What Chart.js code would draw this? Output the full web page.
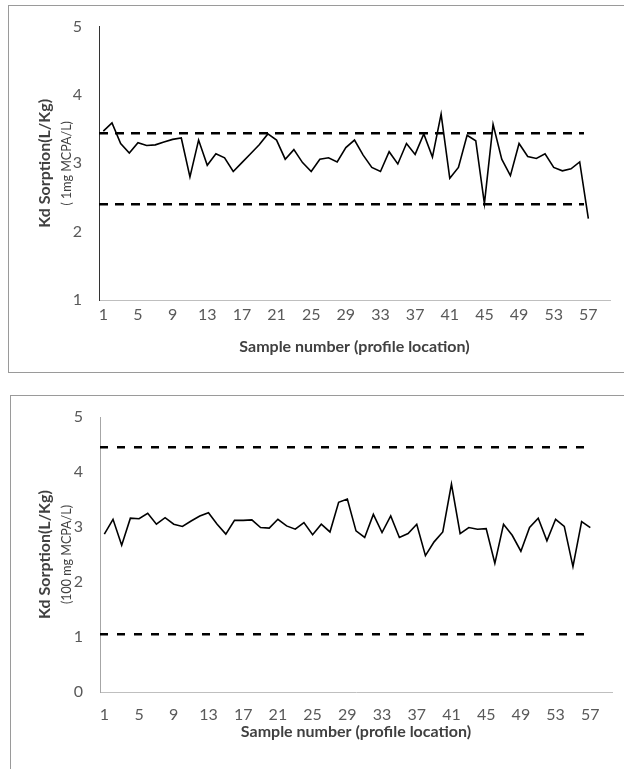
<!DOCTYPE html>
<html>
<head>
<meta charset="utf-8">
<script src="https://cdn.jsdelivr.net/npm/chart.js@4.4.1/dist/chart.umd.min.js"></script>
<style>
    body { margin: 0; background: #fff; width: 624px; height: 769px; overflow: hidden; position: relative; }
    .panel { position: absolute; border: 1px solid #9a9a9a; background: #fff; }
    #p1 { left: 8px; top: 5px; width: 640px; height: 366px; }
    #p2 { left: 10px; top: 395px; width: 640px; height: 400px; }
    canvas { position: absolute; left: 0; }
    #c1 { top: 0; }
    #c2 { top: 385px; }
</style>
</head>
<body>
<div class="panel" id="p1"></div>
<div class="panel" id="p2"></div>
<canvas id="c1" width="624" height="385"></canvas>
<canvas id="c2" width="624" height="384"></canvas>
<script>
// Kd sorption per sample, 1 mg MCPA/L
const kd1mg = [3.47, 3.59, 3.29, 3.15, 3.30, 3.26, 3.27, 3.31, 3.35, 3.37,
               2.80, 3.34, 2.97, 3.14, 3.08, 2.88, 3.01, 3.14, 3.27, 3.43,
               3.34, 3.06, 3.20, 3.01, 2.88, 3.06, 3.08, 3.02, 3.23, 3.34,
               3.12, 2.94, 2.88, 3.17, 2.99, 3.29, 3.13, 3.43, 3.09, 3.72,
               2.78, 2.94, 3.41, 3.33, 2.41, 3.57, 3.06, 2.82, 3.29, 3.10,
               3.07, 3.14, 2.94, 2.89, 2.92, 3.02, 2.19];

// Kd sorption per sample, 100 mg MCPA/L
const kd100mg = [2.87, 3.14, 2.67, 3.16, 3.15, 3.25, 3.05, 3.17, 3.05, 3.01,
                 3.11, 3.20, 3.26, 3.05, 2.87, 3.12, 3.12, 3.13, 2.99, 2.98,
                 3.14, 3.02, 2.96, 3.08, 2.86, 3.05, 2.91, 3.45, 3.51, 2.93,
                 2.81, 3.23, 2.90, 3.20, 2.81, 2.88, 3.05, 2.48, 2.73, 2.91,
                 3.78, 2.88, 2.99, 2.96, 2.97, 2.34, 3.05, 2.85, 2.56, 2.99,
                 3.16, 2.75, 3.14, 3.01, 2.28, 3.10, 2.99];

// limites (linhas tracejadas)
const limits1mg = [3.44, 2.40];
const limits100mg = [4.45, 1.05];
const limitSpan = [0.5, 56.5];

// rótulos do eixo x
const xTickLabels = [1, 5, 9, 13, 17, 21, 25, 29, 33, 37, 41, 45, 49, 53, 57];
const xRange = [0.5, 59.5];

const tickFont = { family: 'Lato, sans-serif', size: 16 };

const axisTitles = {
    id: 'axisTitles',
    afterDraw(chart, args, o) {
        const { ctx, chartArea } = chart;
        ctx.save();
        ctx.fillStyle = '#404040';
        ctx.textAlign = 'center';
        ctx.textBaseline = 'middle';
        ctx.font = 'bold 16px Lato, sans-serif';
        ctx.fillText(o.x, (chartArea.left + chartArea.right) / 2, chartArea.bottom + o.xGap);
        ctx.translate(45, (chartArea.top + chartArea.bottom) / 2);
        ctx.rotate(-Math.PI / 2);
        ctx.fillText(o.y, 0, 0);
        ctx.font = '12.5px Lato, sans-serif';
        ctx.fillText(o.ySub, 0, 22);
        ctx.restore();
    }
};

function limitLine(value, dash) {
    return {
        data: limitSpan.map(x => ({ x: x, y: value })),
        borderColor: '#000',
        borderWidth: 2.5,
        borderDash: dash,
        pointRadius: 0
    };
}

function makeChart(id, values, limits, cfg) {
    return new Chart(document.getElementById(id), {
        type: 'line',
        data: {
            datasets: [
                {
                    data: values.map((v, i) => ({ x: i + 1, y: v })),
                    borderColor: '#000',
                    borderWidth: 1.6,
                    pointRadius: 0,
                    tension: 0
                },
                limitLine(limits[0], cfg.dash),
                limitLine(limits[1], cfg.dash)
            ]
        },
        options: {
            responsive: false,
            animation: false,
            layout: { padding: { top: cfg.top, right: cfg.right, left: 0, bottom: 0 } },
            plugins: {
                legend: { display: false },
                tooltip: { enabled: false },
                axisTitles: {
                    x: 'Sample number (profile location)',
                    y: 'Kd Sorption(L/Kg)',
                    ySub: cfg.sub,
                    xGap: cfg.xGap
                }
            },
            scales: {
                x: {
                    type: 'linear',
                    min: xRange[0],
                    max: xRange[1],
                    afterBuildTicks: s => { s.ticks = xTickLabels.map(v => ({ value: v })); },
                    afterFit: s => { s.height = cfg.xHeight; },
                    grid: { display: false, drawTicks: false },
                    border: { display: true, color: '#bfbfbf', width: 1 },
                    ticks: { color: '#595959', font: tickFont, padding: cfg.xPad, autoSkip: false, maxRotation: 0 }
                },
                y: {
                    min: cfg.yMin,
                    max: 5,
                    afterFit: s => { s.width = cfg.yWidth; },
                    grid: { display: false, drawTicks: false },
                    border: { display: true, color: cfg.yAxisColor, width: 1 },
                    ticks: { color: '#595959', font: tickFont, padding: 17, stepSize: 1 }
                }
            }
        },
        plugins: [axisTitles]
    });
}

makeChart('c1', kd1mg, limits1mg, {
    top: 25, right: 14, yWidth: 99, xHeight: 85, xPad: 5, xGap: 47,
    yMin: 1, yAxisColor: '#333333', dash: [9, 7], sub: '( 1mg MCPA/L)'
});

makeChart('c2', kd100mg, limits100mg, {
    top: 32, right: 12, yWidth: 100, xHeight: 77, xPad: 13, xGap: 40,
    yMin: 0, yAxisColor: '#a6a6a6', dash: [8, 9], sub: '(100 mg MCPA/L)'
});
</script>
</body>
</html>
